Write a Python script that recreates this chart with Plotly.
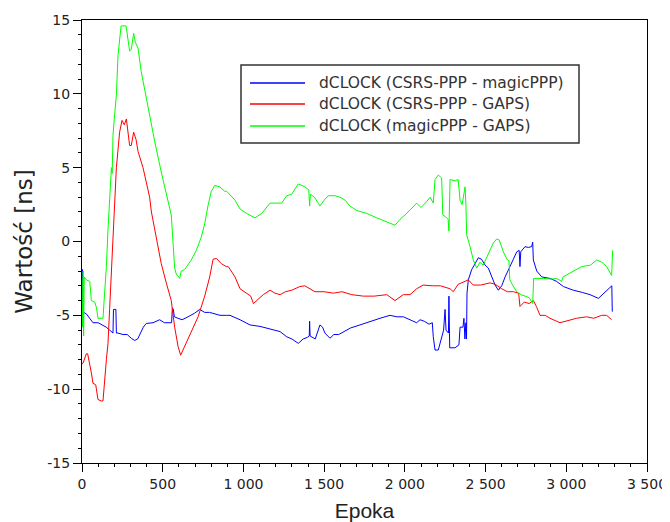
import plotly.graph_objects as go

# ---------------- data ----------------
epoch_blue = [0, 3, 6, 10, 27, 48, 68, 100, 130, 150,
              171, 192, 195, 210, 213, 223, 254, 280, 305, 326,
              345, 367, 380, 398, 440, 481, 510, 555, 560, 566,
              572, 595, 620, 657, 698, 729, 760, 790, 822, 855,
              894, 917, 979, 1041, 1103, 1165, 1227, 1268, 1300, 1340,
              1370, 1395, 1408, 1410, 1413, 1445, 1474, 1490, 1505, 1536,
              1560, 1590, 1640, 1665, 1722, 1784, 1846, 1908, 1950, 1991,
              2030, 2073, 2094, 2120, 2150, 2170, 2176, 2187, 2207, 2230,
              2240, 2249, 2255, 2270, 2273, 2278, 2311, 2335, 2342, 2360,
              2366, 2372, 2378, 2382, 2385, 2393, 2414, 2435, 2455, 2475,
              2497, 2517, 2538, 2559, 2579, 2600, 2621, 2636, 2651, 2672,
              2693, 2708, 2713, 2718, 2744, 2765, 2785, 2792, 2796, 2817,
              2848, 2900, 2940, 2982, 3044, 3100, 3147, 3199, 3240, 3271,
              3282, 3285]
val_blue = [-4.8, -1.9, -5.0, -4.8, -4.9, -5.2, -5.5, -5.5, -5.65, -5.8,
            -6.0, -6.2, -4.6, -4.6, -6.2, -6.2, -6.3, -6.3, -6.55, -6.7,
            -6.6, -6.1, -5.8, -5.55, -5.5, -5.3, -5.5, -5.5, -4.5, -4.6,
            -5.1, -5.2, -5.3, -5.1, -4.85, -4.6, -4.8, -4.8, -4.9, -5.0,
            -5.0, -5.0, -5.3, -5.65, -5.75, -5.9, -6.1, -6.45, -6.6, -6.9,
            -6.6, -6.5, -6.4, -5.4, -6.4, -6.6, -5.65, -5.8, -6.2, -6.55,
            -6.3, -6.3, -6.0, -5.85, -5.65, -5.4, -5.2, -5.0, -5.1, -5.1,
            -5.3, -5.5, -5.3, -5.4, -5.6, -5.5, -6.45, -7.35, -7.35, -6.5,
            -6.0, -4.6, -6.0, -6.2, -3.7, -7.2, -7.2, -7.0, -5.8, -5.8,
            -5.2, -6.6, -5.5, -6.6, -3.5, -2.6, -1.9, -1.5, -1.1, -1.2,
            -1.6, -1.8, -2.4, -2.95, -3.3, -3.0, -2.4, -2.1, -1.7, -1.2,
            -0.7, -0.6, -1.7, -0.7, -0.35, -0.4, -0.35, -0.05, -1.25, -2.0,
            -2.4, -2.5, -2.7, -3.05, -3.3, -3.45, -3.6, -3.85, -3.4, -3.05,
            -3.0, -4.75]

epoch_red = [0, 6, 27, 35, 58, 68, 85, 99, 120, 130,
             151, 161, 171, 182, 192, 199, 213, 223, 233, 248,
             262, 275, 285, 295, 305, 320, 335, 347, 378, 398,
             419, 430, 460, 491, 522, 553, 574, 595, 611, 636,
             677, 719, 760, 791, 812, 833, 863, 894, 906, 948,
             979, 1020, 1045, 1062, 1090, 1123, 1165, 1195, 1227, 1260,
             1299, 1350, 1380, 1410, 1443, 1500, 1557, 1610, 1671, 1743,
             1810, 1888, 1939, 1990, 2032, 2073, 2114, 2170, 2220, 2280,
             2300, 2330, 2352, 2373, 2393, 2424, 2470, 2528, 2560, 2600,
             2635, 2672, 2705, 2713, 2740, 2770, 2796, 2815, 2837, 2870,
             2899, 2961, 3000, 3064, 3126, 3170, 3219, 3250, 3281]
val_red = [-8.3, -8.25, -7.6, -7.6, -8.9, -9.6, -9.7, -10.7, -10.8, -10.8,
           -8.0, -6.9, -4.6, -2.4, -0.1, 1.8, 5.0, 6.3, 7.4, 8.2,
           7.9, 8.3, 7.2, 6.5, 6.5, 7.4, 6.9, 6.1, 5.0, 4.05,
           3.0, 2.0, 0.3, -1.5, -2.8, -4.0, -5.8, -7.1, -7.7, -7.1,
           -6.2, -5.1, -3.7, -2.4, -1.2, -1.15, -1.5, -1.7, -1.7, -2.4,
           -3.2, -3.5, -3.7, -4.2, -3.9, -3.6, -3.3, -3.5, -3.6, -3.4,
           -3.3, -3.05, -3.0, -3.2, -3.4, -3.4, -3.5, -3.4, -3.6, -3.7,
           -3.7, -3.6, -4.0, -3.6, -3.6, -3.2, -2.95, -3.0, -3.0, -3.2,
           -3.4, -2.9, -2.8, -2.7, -2.6, -2.95, -2.95, -2.8, -2.9, -3.2,
           -3.4, -3.4, -3.5, -4.4, -4.1, -4.2, -4.0, -4.4, -5.0, -5.0,
           -5.2, -5.5, -5.4, -5.2, -5.1, -5.2, -5.0, -5.0, -5.3]

epoch_green = [0, 4, 7, 10, 14, 27, 48, 58, 79, 90,
               99, 130, 140, 151, 161, 171, 182, 187, 192, 202,
               213, 223, 233, 242, 273, 285, 295, 305, 320, 330,
               347, 367, 409, 450, 491, 533, 553, 564, 574, 584,
               605, 615, 636, 677, 708, 739, 760, 780, 801, 822,
               853, 884, 896, 948, 979, 1020, 1072, 1113, 1165, 1237,
               1268, 1299, 1340, 1381, 1405, 1410, 1415, 1440, 1474, 1500,
               1526, 1567, 1598, 1630, 1660, 1702, 1764, 1826, 1888, 1939,
               1970, 2011, 2073, 2100, 2135, 2156, 2176, 2187, 2207, 2228,
               2235, 2250, 2268, 2273, 2280, 2311, 2330, 2342, 2355, 2365,
               2373, 2378, 2383, 2404, 2424, 2445, 2465, 2485, 2507, 2528,
               2548, 2569, 2585, 2610, 2635, 2645, 2650, 2670, 2693, 2720,
               2744, 2770, 2792, 2798, 2858, 2910, 2940, 2971, 2980, 3023,
               3060, 3095, 3150, 3188, 3220, 3250, 3281, 3287]
val_green = [-2.5, -5.8, -2.0, -6.4, -2.4, -2.6, -2.7, -4.0, -4.1, -4.5,
             -5.2, -5.2, -3.5, -1.7, 0.8, 2.9, 5.0, 4.6, 7.2, 8.6,
             9.9, 12.6, 13.6, 14.6, 14.6, 13.8, 12.9, 13.0, 14.1, 13.5,
             13.1, 11.5, 9.0, 6.8, 4.7, 2.7, 1.8, -0.1, -1.8, -2.2,
             -2.5, -2.0, -1.9, -1.25, -0.6, 0.3, 1.2, 2.4, 3.4, 3.8,
             3.7, 3.4, 3.4, 2.8, 2.2, 1.9, 1.6, 1.9, 2.6, 2.6,
             3.1, 3.2, 3.9, 3.7, 3.5, 2.4, 3.2, 3.0, 2.4, 2.8,
             3.1, 3.1, 3.0, 2.8, 2.4, 2.1, 1.9, 1.6, 1.35, 1.1,
             1.5, 1.9, 2.6, 2.3, 2.7, 3.0, 2.6, 4.2, 4.5, 4.3,
             1.8, 1.7, 1.5, 0.7, 4.2, 4.1, 4.2, 2.8, 2.5, 3.4,
             3.7, 2.6, 0.45, -0.35, -1.25, -1.8, -1.4, -1.6, -1.1, -0.6,
             -0.1, 0.17, 0.1, -0.7, -1.25, -1.3, -2.6, -3.0, -3.4, -3.6,
             -3.7, -3.8, -4.2, -2.5, -2.5, -2.55, -2.5, -2.7, -2.4, -2.15,
             -1.9, -1.7, -1.6, -1.25, -1.4, -1.7, -2.3, -0.6]

series_names = ["dCLOCK (CSRS-PPP - magicPPP)",
                "dCLOCK (CSRS-PPP - GAPS)",
                "dCLOCK (magicPPP - GAPS)"]
series_colors = ["#0000ff", "#ff0000", "#00ff00"]

x_tick_vals = [0, 500, 1000, 1500, 2000, 2500, 3000, 3500]
x_tick_text = ["0", "500", "1 000", "1 500", "2 000", "2 500", "3 000", "3 500"]
y_tick_vals = [-15, -10, -5, 0, 5, 10, 15]
y_tick_text = ["-15", "-10", "-5", "0", "5", "10", "15"]

assert len(epoch_blue) == len(val_blue)
assert len(epoch_red) == len(val_red)
assert len(epoch_green) == len(val_green)

# ---------------- figure ----------------
# the page body adds an 8px offset, so the figure is sized to the remaining window
OFF = 8
W, H = 670 - OFF, 522 - OFF
ML, MR, MT, MB = 82 - OFF, 23, 20 - OFF, 59
PW, PH = W - ML - MR, H - MT - MB


def px_x(px):
    """page pixel x -> paper coordinate"""
    return (px - OFF - ML) / PW


def px_y(py):
    """page pixel y -> paper coordinate"""
    return (H - MB - (py - OFF)) / PH


fig = go.Figure()
for xs, ys, name, col in zip([epoch_blue, epoch_red, epoch_green],
                             [val_blue, val_red, val_green],
                             series_names, series_colors):
    fig.add_trace(go.Scatter(x=xs, y=ys, mode="lines", name=name,
                             line=dict(color=col, width=1), showlegend=False))

tick_font = "DejaVu Sans, sans-serif"
text_col = "#222222"

fig.update_layout(
    width=W, height=H,
    margin=dict(l=ML, r=MR, t=MT, b=MB, autoexpand=False),
    paper_bgcolor="white", plot_bgcolor="white",
    font=dict(family=tick_font, size=14, color=text_col),
    showlegend=False,
)

fig.update_xaxes(
    range=[0, 3500], tickvals=x_tick_vals, ticktext=x_tick_text,
    showgrid=False, zeroline=False, automargin=False,
    showline=True, linecolor="black", linewidth=1, mirror=True,
    ticks="outside", ticklen=8, tickcolor="black", tickwidth=1,
    minor=dict(ticks="outside", ticklen=3, dtick=100, tickcolor="black", showgrid=False),
    tickfont=dict(family=tick_font, size=14, color=text_col),
    title=dict(text="Epoka", font=dict(family="Liberation Sans, Arial, sans-serif",
                                       size=21, color=text_col), standoff=12),
)
fig.update_yaxes(
    range=[-15, 15], tickvals=y_tick_vals, ticktext=y_tick_text,
    showgrid=False, zeroline=False, automargin=False,
    showline=True, linecolor="black", linewidth=1, mirror=True,
    ticks="outside", ticklen=8, tickcolor="black", tickwidth=1,
    minor=dict(ticks="outside", ticklen=3, dtick=1, tickcolor="black", showgrid=False),
    tickfont=dict(family=tick_font, size=14, color=text_col),
    title=dict(text="Wartość [ns]", font=dict(family="DejaVu Sans, sans-serif",
                                              size=23, color=text_col), standoff=8),
)

# ---------------- legend drawn by hand (box, line samples, labels) ----------------
legend_box = dict(x0=241, x1=579, y0=65, y1=143)
legend_rows = [83, 104, 126]
fig.add_shape(type="rect", xref="paper", yref="paper",
              x0=px_x(legend_box["x0"]), x1=px_x(legend_box["x1"]),
              y0=px_y(legend_box["y1"]), y1=px_y(legend_box["y0"]),
              line=dict(color="#333333", width=1.5), fillcolor="white", layer="above")
for row_y, name, col in zip(legend_rows, series_names, series_colors):
    fig.add_shape(type="line", xref="paper", yref="paper",
                  x0=px_x(250), x1=px_x(305), y0=px_y(row_y), y1=px_y(row_y),
                  line=dict(color=col, width=1.5), layer="above")
    fig.add_annotation(x=px_x(317), y=px_y(row_y), xref="paper", yref="paper",
                       text=name, showarrow=False, xanchor="left", yanchor="middle",
                       font=dict(family=tick_font, size=15.5, color="#333333"))

fig.write_html("out.html")
